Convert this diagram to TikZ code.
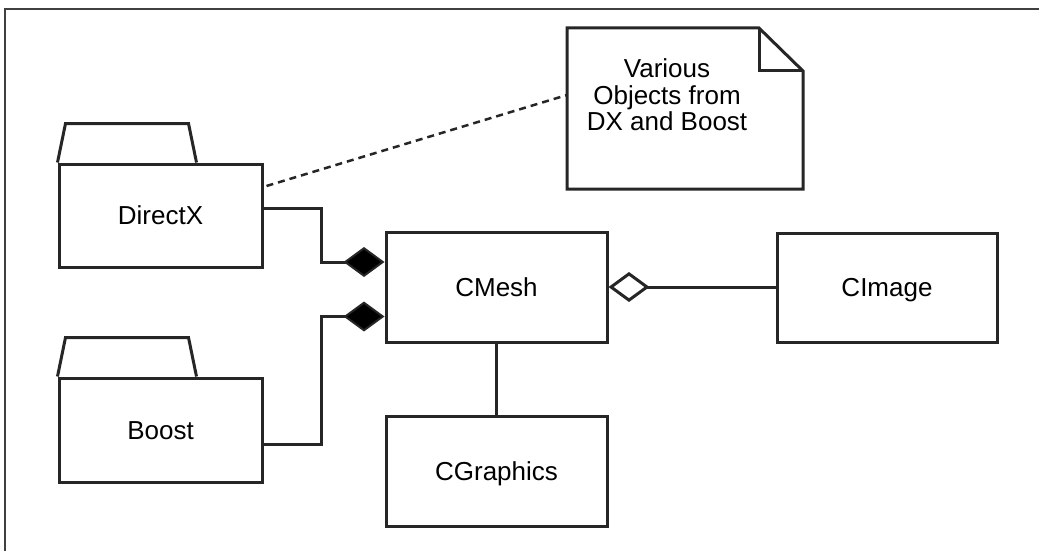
\documentclass[tikz,border=0pt]{standalone}
\usepackage{fontspec}
\setmainfont{Liberation Sans}
\usetikzlibrary{arrows.meta}
\tikzset{
  cls/.style={draw=black!85,line width=3pt,minimum width=221pt,minimum height=110pt,inner sep=0pt,text height=18.6pt,text depth=0pt,font=\fontsize{26}{26.5}\selectfont},
  pkg/.style={cls,minimum width=203pt,minimum height=103pt},
  conn/.style={draw=black!85,line width=3pt},
  comp/.style={conn,-{Diamond[length=41pt,width=30pt,fill=black,line width=2pt]}},
  aggr/.style={conn,{Diamond[open,length=41pt,width=30pt,line width=3pt]}-}
}
\begin{document}
\begin{tikzpicture}[x=1pt,y=-1pt]
\useasboundingbox (0,0) rectangle (1039,551);
\draw[line width=2pt,black!75](5,551)--(5,9)--(1039,9);
% packages
\node[pkg] (DirectX) at (160.5,215.5) {DirectX};
\node[pkg,minimum height=104pt] (Boost) at (160.5,430) {Boost};
\foreach \p in {DirectX,Boost}{\draw[conn,line join=miter](\p.north west)--++(8,-39)--++(123,0)--++(8,39);}
% classes
\node[cls] (CMesh) at (496.5,287) {CMesh};
\node[cls,minimum width=220pt,minimum height=109pt] (CImage) at (887,287.5) {CImage};
\node[cls] (CGraphics) at (496.5,471) {CGraphics};
% note
\draw[conn,line join=miter](567,28)--(759,28)--(803,71)--(803,189)--(567,189)--cycle;
\draw[conn,line join=miter](759,28)--(759,71)--(803,71);
\node[align=center,font=\fontsize{26}{26.5}\selectfont] (note) at (667,95) {Various\\Objects from\\DX and Boost};
\coordinate (notepin) at (567,95);
% connectors
\draw[conn,dash pattern=on 7pt off 5pt,line width=2.5pt]([yshift=29.5pt,xshift=3pt]DirectX.east)--(notepin);
\draw[comp]([yshift=7.5pt]DirectX.east)-|([xshift=-63pt,yshift=25pt]CMesh.west)--([yshift=25pt]CMesh.west);
\draw[comp]([yshift=-14pt]Boost.east)-|([xshift=-63pt,yshift=-29.5pt]CMesh.west)--([yshift=-29.5pt]CMesh.west);
\draw[aggr](CMesh.east)--(CMesh.east-|CImage.west);
\draw[conn](CMesh.south)--(CGraphics.north);
\end{tikzpicture}
\end{document}
